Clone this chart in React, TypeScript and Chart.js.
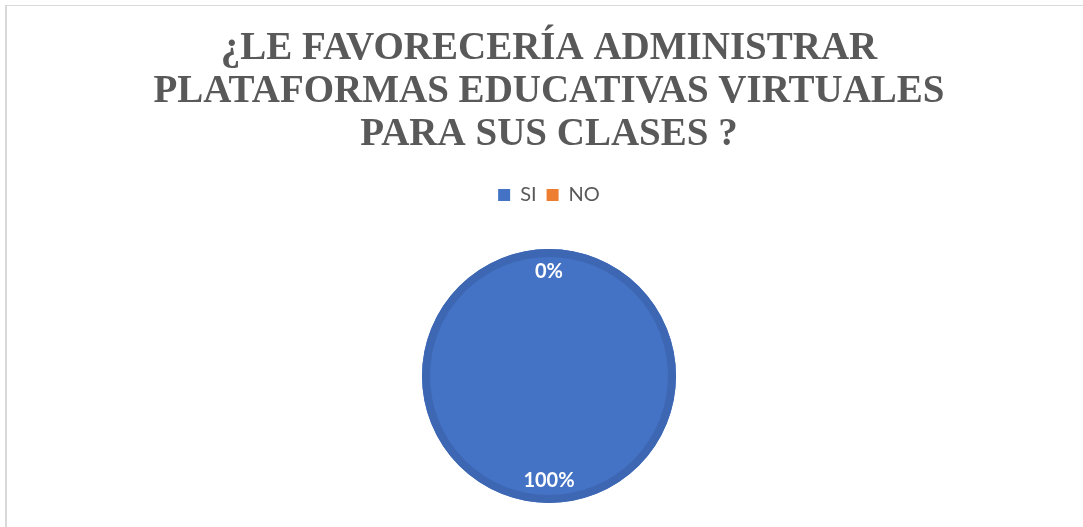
import React, { useEffect, useRef } from "react";
import { Chart, registerables } from "chart.js";

Chart.register(...registerables);

const titleLines = ["¿LE FAVORECERÍA ADMINISTRAR", "PLATAFORMAS EDUCATIVAS VIRTUALES", "PARA SUS CLASES ?"];
const categories = ["SI", "NO"];
const values = [100, 0];
const colors = ["#4472C4", "#ED7D31"];

const ringAndLabels = {
  id: "ringAndLabels",
  afterDatasetsDraw(chart: any) {
    const ctx = chart.ctx;
    const meta = chart.getDatasetMeta(0);
    const total = values.reduce((a, b) => a + b, 0);
    const first = meta.data[0];
    if (!first) return;
    ctx.save();
    ctx.beginPath();
    ctx.arc(first.x, first.y, first.outerRadius - 4, 0, Math.PI * 2);
    ctx.lineWidth = 8;
    ctx.strokeStyle = "#3E67B3";
    ctx.stroke();
    ctx.fillStyle = "#FFFFFF";
    ctx.font = "bold 20px Lato, 'Open Sans', sans-serif";
    ctx.textAlign = "center";
    ctx.textBaseline = "middle";
    meta.data.forEach((el: any, i: number) => {
      const mid = (el.startAngle + el.endAngle) / 2;
      const r = el.outerRadius * 0.82;
      const pct = Math.round((values[i] / total) * 100) + "%";
      ctx.fillText(pct, el.x + Math.cos(mid) * r, el.y + Math.sin(mid) * r);
    });
    ctx.restore();
  },
};

export default function App() {
  const ref = useRef<HTMLCanvasElement>(null);
  useEffect(() => {
    if (!ref.current) return;
    const chart = new Chart(ref.current, {
      type: "pie",
      data: {
        labels: categories,
        datasets: [
          {
            data: values,
            backgroundColor: colors,
            borderWidth: 0,
            radius: 127,
          } as any,
        ],
      },
      options: {
        responsive: false,
        animation: false,
        layout: { padding: { left: 15, right: 0, top: 0, bottom: 23 } },
        plugins: {
          tooltip: { enabled: false },
          title: {
            display: true,
            text: titleLines,
            color: "#595959",
            font: { family: "'Liberation Serif', 'Times New Roman', serif", weight: "bold", size: 39, lineHeight: 43 / 39 },
            padding: { top: 27, bottom: 19 },
          },
          legend: {
            display: true,
            position: "top",
            labels: {
              boxWidth: 12,
              boxHeight: 12,
              padding: 10,
              color: "#595959",
              font: { family: "Lato, 'Open Sans', sans-serif", size: 20 },
            },
          },
        },
      },
      plugins: [ringAndLabels],
    });
    return () => chart.destroy();
  }, []);
  return (
    <div style={{ position: "absolute", left: 0, top: 0, width: 1083, height: 527, overflow: "hidden", background: "#fff" }}>
      <div
        style={{
          position: "absolute",
          left: 5,
          top: 5,
          right: -10,
          bottom: -10,
          borderTop: "1px solid #D9D9D9",
          borderLeft: "2px solid #D9D9D9",
        }}
      />
      <canvas ref={ref} width={1083} height={560} style={{ position: "absolute", left: 0, top: 0 }} />
    </div>
  );
}
